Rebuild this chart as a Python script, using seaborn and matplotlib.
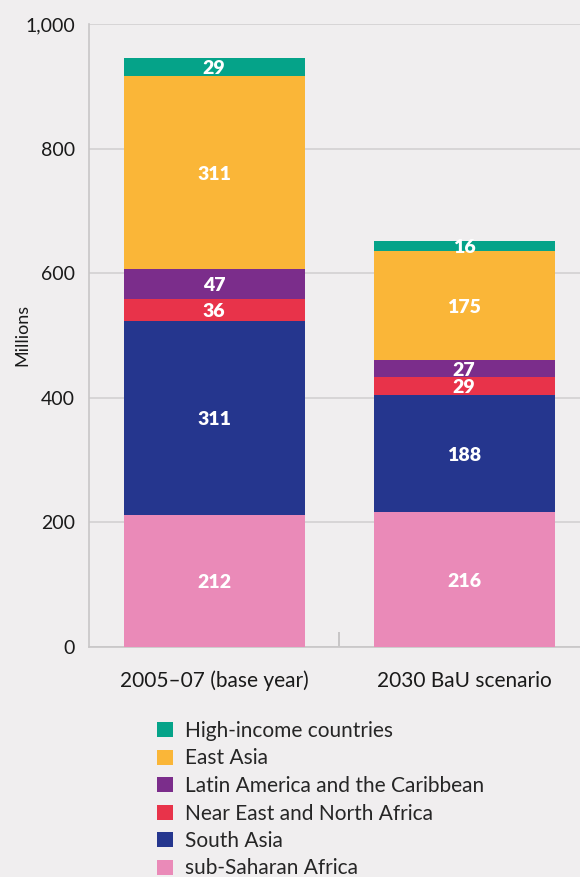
import numpy as np
import pandas as pd
import matplotlib
matplotlib.use("Agg")
import matplotlib.pyplot as plt
from matplotlib.patches import Patch
from matplotlib.ticker import FuncFormatter, FixedLocator
import seaborn as sns

# Data (millions of undernourished people), stacked bottom -> top
scenarios = ["2005\u201307 (base year)", "2030 BaU scenario"]
regions = ["sub-Saharan Africa", "South Asia", "Near East and North Africa",
           "Latin America and the Caribbean", "East Asia", "High-income countries"]
base_year = [212, 311, 36, 47, 311, 29]
bau_2030 = [216, 188, 29, 27, 175, 16]
colors = ["#EA8AB8", "#25368E", "#E8334A", "#7B2D8B", "#FAB638", "#05A389"]

sns.set_theme(style="white")
plt.rcParams["font.family"] = ["Lato", "DejaVu Sans"]
bg = "#F0EEEF"

fig = plt.figure(figsize=(5.8, 8.77), dpi=100, facecolor=bg)
ax = fig.add_axes([89 / 580, 230 / 877, 500 / 580, 623 / 877], facecolor=bg)

# Build cumulative tops for stacking
rows = []
for sc, vals in zip(scenarios, [base_year, bau_2030]):
    cum = np.cumsum(vals)
    for reg, v, c in zip(regions, vals, cum):
        rows.append({"scenario": sc, "region": reg, "value": v, "top": c})
df = pd.DataFrame(rows)

# draw from the tallest (top layer) down so lower layers overlay
for reg, col in reversed(list(zip(regions, colors))):
    sub = df[df["region"] == reg]
    sns.barplot(data=sub, x="scenario", y="top", order=scenarios, color=col,
                width=0.724, saturation=1, edgecolor="none", linewidth=0,
                ax=ax, zorder=3)

# value labels
for _, r in df.iterrows():
    xi = scenarios.index(r["scenario"])
    ax.text(xi, r["top"] - r["value"] / 2, f"{r['value']}", ha="center",
            va="center_baseline", color="white", fontsize=14, fontweight="heavy",
            zorder=5)

ax.set_xlim(-0.5, 1.5)
ax.set_ylim(0, 1000)
ax.yaxis.set_major_locator(FixedLocator([0, 200, 400, 600, 800, 1000]))
ax.yaxis.set_major_formatter(FuncFormatter(lambda v, p: f"{int(v):,}"))
ax.yaxis.grid(True, color="#D2D0D1", linewidth=1.2, zorder=0)
ax.set_axisbelow(True)
ax.xaxis.grid(False)

for s in ["top", "right"]:
    ax.spines[s].set_visible(False)
for s in ["left", "bottom"]:
    ax.spines[s].set_color("#C8C6C7")
    ax.spines[s].set_linewidth(1.2)

ax.tick_params(axis="y", length=0, labelsize=14, colors="#1a1a1a", pad=10)
ax.tick_params(axis="x", length=0, labelsize=15, colors="#1a1a1a", pad=17)
ax.xaxis.set_minor_locator(FixedLocator([0.5]))
ax.tick_params(axis="x", which="minor", bottom=True, direction="in", length=11,
               width=1.2, color="#C0BEBF")
ax.set_xlabel("")
ax.set_ylabel("")
fig.text(22 / 580, 1 - 335 / 877, "Millions", rotation=90, ha="center",
         va="center", fontsize=13, color="#1a1a1a")

handles = [Patch(facecolor=c, edgecolor="none") for c in reversed(colors)]
fig.legend(handles, list(reversed(regions)), loc="upper left",
           bbox_to_anchor=(157 / 580, 1 - 721 / 877), frameon=False,
           fontsize=15, handlelength=0.75, handleheight=0.75, handletextpad=0.6,
           labelspacing=0.36, borderaxespad=0, borderpad=0)

fig.savefig("out.png", dpi=100, facecolor=bg)
